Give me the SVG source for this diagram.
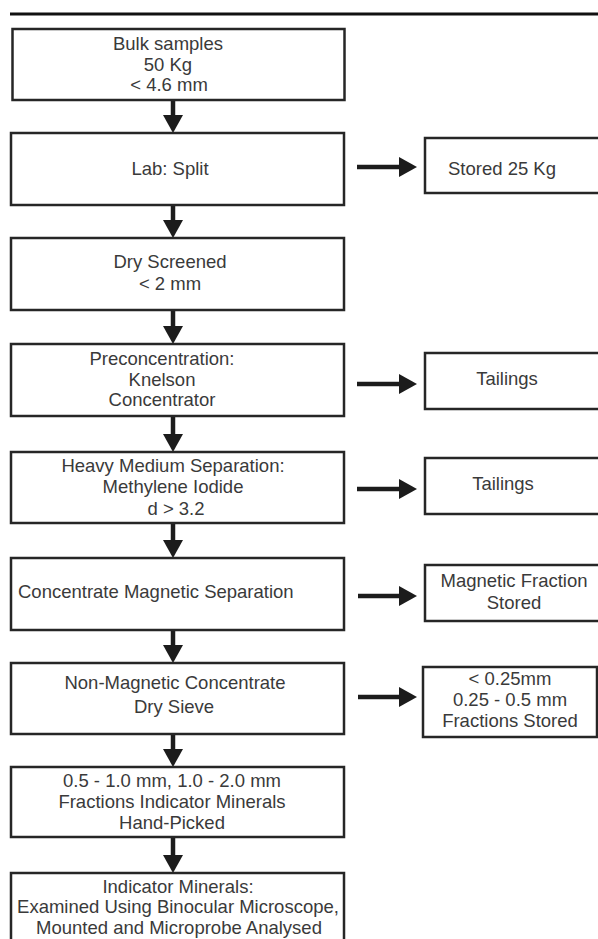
<svg xmlns="http://www.w3.org/2000/svg" width="598" height="939" viewBox="0 0 598 939">
<defs>
<style>
.box{fill:#fff;stroke:#262626;stroke-width:2.5}
text{font-family:"Liberation Sans",Arial,sans-serif;font-size:18.5px;fill:#3a3a3a}
.c{text-anchor:middle}
.stem{stroke:#1c1c1c;stroke-width:4.5;fill:none}
.head{fill:#1c1c1c}
</style>
</defs>
<rect width="598" height="939" fill="#fff"/>
<line x1="10" y1="14" x2="598" y2="14" stroke="#111" stroke-width="3"/>

<g id="connectors">
<g id="a1"><line class="stem" x1="173" y1="100" x2="173" y2="116"/><polygon class="head" points="163,115 183,115 173,133"/></g>
<g id="a2"><line class="stem" x1="173" y1="205" x2="173" y2="221"/><polygon class="head" points="163,220 183,220 173,238"/></g>
<g id="a3"><line class="stem" x1="173" y1="310" x2="173" y2="327"/><polygon class="head" points="163,326 183,326 173,344"/></g>
<g id="a4"><line class="stem" x1="173" y1="416" x2="173" y2="435"/><polygon class="head" points="163,434 183,434 173,452"/></g>
<g id="a5"><line class="stem" x1="173" y1="523" x2="173" y2="541"/><polygon class="head" points="163,540 183,540 173,558"/></g>
<g id="a6"><line class="stem" x1="173" y1="630" x2="173" y2="646"/><polygon class="head" points="163,645 183,645 173,663"/></g>
<g id="a7"><line class="stem" x1="173" y1="734" x2="173" y2="750"/><polygon class="head" points="163,749 183,749 173,767"/></g>
<g id="a8"><line class="stem" x1="173" y1="837" x2="173" y2="856"/><polygon class="head" points="163,855 183,855 173,873"/></g>
<g id="h1"><line class="stem" x1="357" y1="167" x2="400" y2="167"/><polygon class="head" points="399,157 399,177 417,167"/></g>
<g id="h2"><line class="stem" x1="357" y1="384" x2="400" y2="384"/><polygon class="head" points="399,374 399,394 417,384"/></g>
<g id="h3"><line class="stem" x1="357" y1="489" x2="400" y2="489"/><polygon class="head" points="399,479 399,499 417,489"/></g>
<g id="h4"><line class="stem" x1="358" y1="596" x2="400" y2="596"/><polygon class="head" points="399,586 399,606 417,596"/></g>
<g id="h5"><line class="stem" x1="358" y1="697" x2="400" y2="697"/><polygon class="head" points="399,687 399,707 417,697"/></g>
</g>

<g id="n1"><rect class="box" x="12.5" y="29" width="332" height="71"/>
<text class="c" x="168" y="50">Bulk samples</text><text class="c" x="168" y="71">50 Kg</text><text class="c" x="169" y="91">&lt; 4.6 mm</text></g>

<g id="n2"><rect class="box" x="11" y="133" width="333" height="72"/>
<text class="c" x="170" y="175">Lab: Split</text></g>

<g id="n2r"><rect class="box" x="425" y="138" width="180" height="55"/>
<text x="448" y="175">Stored 25 Kg</text></g>

<g id="n3"><rect class="box" x="11" y="238" width="333" height="72"/>
<text class="c" x="170" y="268">Dry Screened</text><text class="c" x="170" y="290">&lt; 2 mm</text></g>

<g id="n4"><rect class="box" x="11" y="344" width="333" height="72"/>
<text class="c" x="162" y="365">Preconcentration:</text><text class="c" x="162" y="386">Knelson</text><text class="c" x="162" y="406">Concentrator</text></g>

<g id="n4r"><rect class="box" x="425" y="353" width="180" height="56"/>
<text class="c" x="507" y="385">Tailings</text></g>

<g id="n5"><rect class="box" x="11" y="452" width="333" height="71"/>
<text class="c" x="173" y="472">Heavy Medium Separation:</text><text class="c" x="173" y="493">Methylene Iodide</text><text class="c" x="176" y="515">d &gt; 3.2</text></g>

<g id="n5r"><rect class="box" x="425" y="458" width="180" height="56"/>
<text class="c" x="503" y="490">Tailings</text></g>

<g id="n6"><rect class="box" x="11" y="558" width="333" height="72"/>
<text x="18" y="598">Concentrate Magnetic Separation</text></g>

<g id="n6r"><rect class="box" x="425" y="565" width="180" height="56"/>
<text class="c" x="514" y="587">Magnetic Fraction</text><text class="c" x="514" y="609">Stored</text></g>

<g id="n7"><rect class="box" x="11" y="663" width="333" height="71"/>
<text class="c" x="175" y="689">Non-Magnetic Concentrate</text><text class="c" x="174" y="713">Dry Sieve</text></g>

<g id="n7r"><rect class="box" x="423" y="667" width="174" height="70"/>
<text class="c" x="510" y="685">&lt; 0.25mm</text><text class="c" x="510" y="706">0.25 - 0.5 mm</text><text class="c" x="510" y="727">Fractions Stored</text></g>

<g id="n8"><rect class="box" x="11" y="767" width="333" height="70"/>
<text class="c" x="172" y="787">0.5 - 1.0 mm, 1.0 - 2.0 mm</text><text class="c" x="172" y="808">Fractions Indicator Minerals</text><text class="c" x="172" y="829">Hand-Picked</text></g>

<g id="n9"><rect class="box" x="11" y="873" width="333" height="80"/>
<text class="c" x="178" y="893">Indicator Minerals:</text><text class="c" x="178" y="913">Examined Using Binocular Microscope,</text><text class="c" x="179" y="934">Mounted and Microprobe Analysed</text></g>
</svg>
